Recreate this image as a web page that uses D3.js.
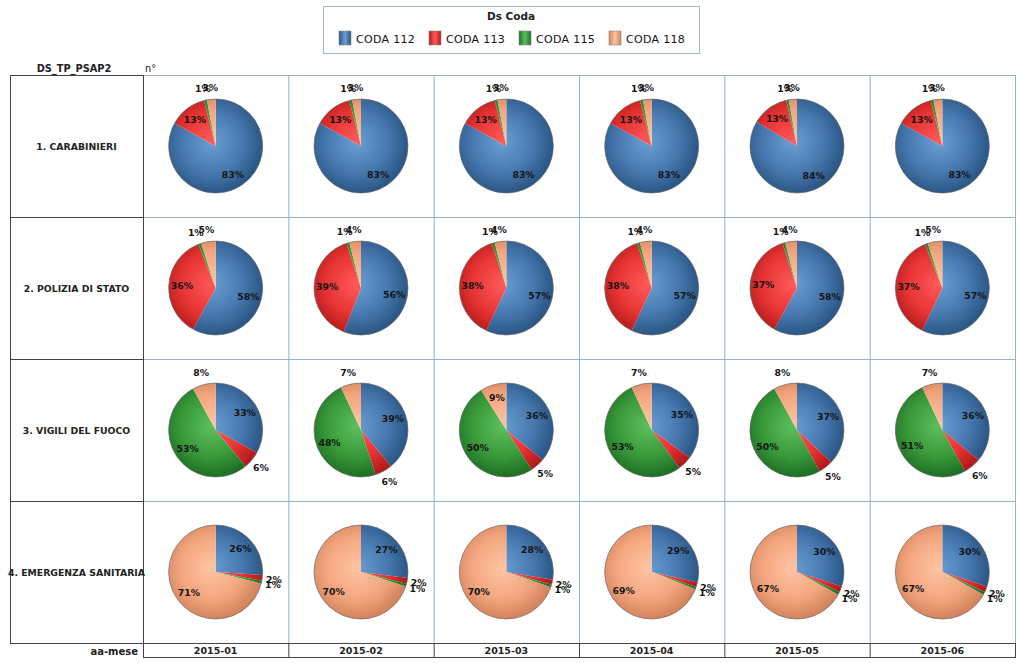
<!DOCTYPE html>
<html>
<head>
<meta charset="utf-8">
<script src="https://cdn.jsdelivr.net/npm/d3@7"></script>
<style>
  body { margin: 0; background: #fff; }
  svg { display: block; font-family: "DejaVu Sans", Verdana, sans-serif; }
</style>
</head>
<body>
<div id="chart"></div>
<script>
// data (percent shares per agency / month)
const months = ['2015-01', '2015-02', '2015-03', '2015-04', '2015-05', '2015-06'];
const agencies = ['1. CARABINIERI', '2. POLIZIA DI STATO', '3. VIGILI DEL FUOCO', '4. EMERGENZA SANITARIA'];
const codes = ['CODA 112', 'CODA 113', 'CODA 115', 'CODA 118'];

const coda112 = [
  [83, 83, 83, 83, 83.6, 83],
  [58, 56, 57, 57, 58, 57],
  [33, 39, 36, 35, 37, 36],
  [26, 27, 27.6, 28.6, 30, 30]
];
const coda113 = [
  [13, 13, 13, 13, 12.7, 13],
  [36, 39, 38, 38, 37, 37],
  [6, 6, 5, 5, 5, 6],
  [2, 2, 1.8, 1.6, 2, 2]
];
const coda115 = [
  [1, 1, 1, 1, 0.9, 1],
  [1, 1, 1, 1, 1, 1],
  [53, 48, 50, 53, 50, 51],
  [1, 1, 0.9, 0.8, 1, 1]
];
const coda118 = [
  [3, 3, 3, 3, 2.8, 3],
  [5, 4, 4, 4, 4, 5],
  [8, 7, 9, 7, 8, 7],
  [71, 70, 69.7, 69, 67, 67]
];
const seriesValues = [coda112, coda113, coda115, coda118];

const palette = {
  'CODA 112': ['#6a9fd3', '#4779b0', '#2b5785'],
  'CODA 113': ['#ff5a5a', '#e83434', '#b31a1a'],
  'CODA 115': ['#5cbf5c', '#3a9a3a', '#1d6f24'],
  'CODA 118': ['#ffc4a4', '#f4a77f', '#d4835c']
};

const W = 1023, H = 665;
const gridL = 143, gridR = 1015, gridT = 75, gridB = 643, labelL = 10, footB = 657;
const R = 47;

const svg = d3.select('#chart').append('svg').attr('width', W).attr('height', H);
const defs = svg.append('defs');

codes.forEach((c, i) => {
  const [lt, md, dk] = palette[c];
  const rg = defs.append('radialGradient')
    .attr('id', 'pg' + i)
    .attr('gradientUnits', 'userSpaceOnUse')
    .attr('cx', -4).attr('cy', -4).attr('r', R + 4);
  rg.append('stop').attr('offset', '0%').attr('stop-color', lt);
  rg.append('stop').attr('offset', '60%').attr('stop-color', md);
  rg.append('stop').attr('offset', '100%').attr('stop-color', dk);

  const lg = defs.append('linearGradient').attr('id', 'lg' + i);
  lg.append('stop').attr('offset', '0%').attr('stop-color', dk);
  lg.append('stop').attr('offset', '50%').attr('stop-color', lt);
  lg.append('stop').attr('offset', '100%').attr('stop-color', dk);
});

const x = d3.scaleBand().domain(months).range([gridL, gridR]);
const y = d3.scaleBand().domain(agencies).range([gridT, gridB]);

// legend
const leg = svg.append('g');
leg.append('rect').attr('x', 323.5).attr('y', 6.5).attr('width', 376).attr('height', 47)
  .attr('fill', '#fff').attr('stroke', '#a3b5cc');
leg.append('text').attr('x', 511).attr('y', 20).attr('text-anchor', 'middle')
  .attr('font-size', 10.5).attr('font-weight', 'bold').attr('fill', '#222').text('Ds Coda');
const legX = d3.scalePoint().domain(codes).range([339, 609]);
const item = leg.selectAll('g.item').data(codes).join('g').attr('class', 'item')
  .attr('transform', d => `translate(${legX(d)},31)`);
item.append('rect').attr('width', 12).attr('height', 14)
  .attr('fill', (d, i) => `url(#lg${i})`).attr('stroke', '#888').attr('stroke-width', 0.6);
item.append('text').attr('x', 17).attr('y', 11.5).attr('font-size', 11).attr('fill', '#111')
  .attr('letter-spacing', 0.3)
  .text(d => d);

// header
svg.append('text').attr('x', 74).attr('y', 72).attr('text-anchor', 'middle')
  .attr('font-size', 9.8).attr('font-weight', 'bold').attr('fill', '#222').text('DS_TP_PSAP2');
svg.append('text').attr('x', 145).attr('y', 72)
  .attr('font-size', 9.8).attr('fill', '#222').text('n°');

// grid: pie cells (blue lines)
const blue = '#93b2d4';
const gridG = svg.append('g').attr('fill', 'none');
gridG.selectAll('line.h').data(agencies.concat([null])).join('line')
  .attr('x1', gridL).attr('x2', gridR)
  .attr('y1', d => (d ? y(d) : gridB) + 0.5).attr('y2', d => (d ? y(d) : gridB) + 0.5)
  .attr('stroke', blue);
gridG.selectAll('line.v').data(months.slice(1).concat([null])).join('line')
  .attr('x1', d => (d ? x(d) : gridR) + 0.5).attr('x2', d => (d ? x(d) : gridR) + 0.5)
  .attr('y1', gridT).attr('y2', gridB)
  .attr('stroke', blue);

// grid: row label column (dark lines)
const dark = '#444';
gridG.selectAll('line.lh').data(agencies.concat([null])).join('line')
  .attr('x1', labelL).attr('x2', gridL)
  .attr('y1', d => (d ? y(d) : gridB) + 0.5).attr('y2', d => (d ? y(d) : gridB) + 0.5)
  .attr('stroke', dark);
gridG.append('line').attr('x1', labelL + 0.5).attr('x2', labelL + 0.5).attr('y1', gridT).attr('y2', gridB)
  .attr('stroke', dark);
gridG.append('line').attr('x1', gridL + 0.5).attr('x2', gridL + 0.5).attr('y1', gridT).attr('y2', footB)
  .attr('stroke', dark);
// footer row
gridG.append('line').attr('x1', gridL).attr('x2', gridR + 1).attr('y1', gridB + 0.5).attr('y2', gridB + 0.5)
  .attr('stroke', dark);
gridG.append('line').attr('x1', gridL).attr('x2', gridR + 1).attr('y1', footB + 0.5).attr('y2', footB + 0.5)
  .attr('stroke', dark);
gridG.selectAll('line.fv').data(months.slice(1).concat([null])).join('line')
  .attr('x1', d => (d ? x(d) : gridR) + 0.5).attr('x2', d => (d ? x(d) : gridR) + 0.5)
  .attr('y1', gridB).attr('y2', footB)
  .attr('stroke', dark);

svg.selectAll('text.rowlab').data(agencies).join('text').attr('class', 'rowlab')
  .attr('x', (labelL + gridL) / 2).attr('y', d => y(d) + y.bandwidth() / 2 + 3.5)
  .attr('text-anchor', 'middle').attr('font-size', 9.3).attr('font-weight', 'bold').attr('fill', '#222')
  .text(d => d);

svg.selectAll('text.collab').data(months).join('text').attr('class', 'collab')
  .attr('x', d => x(d) + x.bandwidth() / 2).attr('y', footB - 3)
  .attr('text-anchor', 'middle').attr('font-size', 9.5).attr('font-weight', 'bold').attr('fill', '#222')
  .text(d => d);
svg.append('text').attr('x', 138).attr('y', footB - 2).attr('text-anchor', 'end')
  .attr('font-size', 10).attr('font-weight', 'bold').attr('fill', '#222').text('aa-mese');

// pies
const pie = d3.pie().sort(null).value(d => d.v);
const arc = d3.arc().innerRadius(0).outerRadius(R);
const fmt = d3.format('.0%');

const cells = [];
agencies.forEach((a, ai) => months.forEach((m, mi) => {
  cells.push({ a, m, slices: codes.map((c, ci) => ({ c, ci, v: seriesValues[ci][ai][mi] })) });
}));

const cellG = svg.selectAll('g.cell').data(cells).join('g').attr('class', 'cell')
  .attr('transform', d => `translate(${x(d.m) + x.bandwidth() / 2},${y(d.a) + y.bandwidth() / 2})`);

cellG.each(function(cell) {
  const g = d3.select(this);
  const total = d3.sum(cell.slices, s => s.v);
  const arcs = pie(cell.slices);
  g.selectAll('path').data(arcs).join('path')
    .attr('d', arc)
    .attr('fill', d => `url(#pg${d.data.ci})`);
  g.append('circle').attr('r', R).attr('fill', 'none').attr('stroke', '#6a6a6a').attr('stroke-width', 0.7);
  g.selectAll('text').data(arcs).join('text')
    .attr('transform', d => {
      const frac = d.data.v / total;
      const r = frac >= 0.085 ? R * 0.72 : R * 1.25;
      const mid = (d.startAngle + d.endAngle) / 2;
      return `translate(${Math.sin(mid) * r},${-Math.cos(mid) * r})`;
    })
    .attr('text-anchor', 'middle').attr('dy', '0.35em')
    .attr('font-size', 9.3).attr('font-weight', 'bold').attr('fill', '#151515')
    .text(d => fmt(d.data.v / total));
});
</script>
</body>
</html>
